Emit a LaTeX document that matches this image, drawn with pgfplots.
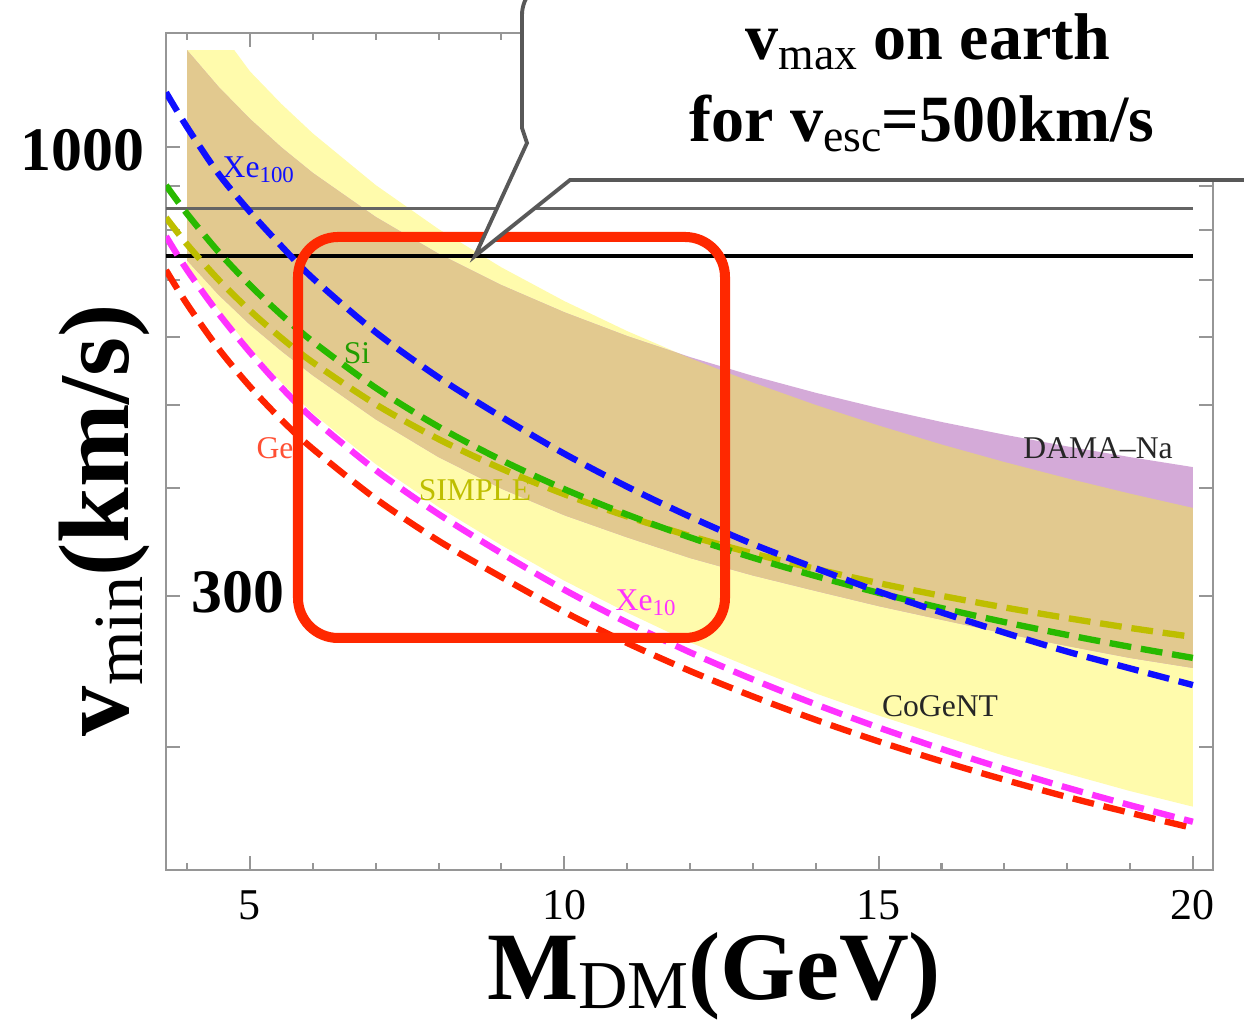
\documentclass[border=0pt]{standalone}
\usepackage{fontspec}
\setmainfont{Liberation Serif}
\usepackage{pgfplots}
\pgfplotsset{compat=1.18}
\definecolor{yelC}{RGB}{255,251,172}
\definecolor{tanC}{RGB}{226,201,143}
\definecolor{purD}{RGB}{212,170,216}
\definecolor{blueX}{RGB}{15,15,255}
\definecolor{greenS}{RGB}{40,185,0}
\definecolor{oliveS}{RGB}{190,190,0}
\definecolor{magX}{RGB}{255,50,255}
\definecolor{redG}{RGB}{255,35,0}
\definecolor{boxred}{RGB}{255,40,0}
\definecolor{axgray}{RGB}{150,150,150}
\definecolor{lgray}{RGB}{100,100,100}
\definecolor{cgray}{RGB}{88,88,88}
\begin{document}
\begin{tikzpicture}
\useasboundingbox (0,0) rectangle (12.44,10.20);
\begin{axis}[
  at={(1.66cm,1.50cm)}, anchor=south west,
  scale only axis, width=10.47cm, height=8.37cm,
  xmin=3.664, xmax=20.32, ymode=log, ymin=143.7, ymax=1358,
  xtick={5,10,15,20}, xticklabels={5,10,15,20},
  minor xtick={4,6,7,8,9,11,12,13,14,16,17,18,19},
  ytick={200,300,400,500,600,700,800,900,1000}, yticklabels={,,,,,,,,},
  yminorticks=false,
  tick align=inside,
  major tick length=0.14cm, minor tick length=0.07cm,
  axis line style={draw=axgray, line width=0.6pt},
  every tick/.style={draw=axgray, line width=0.6pt},
  xticklabel style={font=\fontsize{12.5}{14}\selectfont, inner sep=0pt, anchor=north, yshift=-0.20cm},
  clip=true,
]
% CoGeNT band
\addplot[fill=yelC, draw=none] coordinates {
(4.0,1297)(4.35,1297)(4.75,1297)(5,1224.9)(5.5,1122.4)(6,1037.1)(7,902.9)(8,802.3)(9,724.0)(10,661.4)(11,610.2)(12,567.5)(13,531.4)(14,500.4)(15,473.6)(16,450.1)(17,429.4)(18,411.0)(19,394.5)(20,379.65)
(20,170.3)(19,177.6)(18,186.1)(17,195.2)(16,206.0)(15,217.5)(14,230.8)(13,246.8)(12,264.7)(11,286.7)(10,312.3)(9,343.5)(8,380.5)(7,427.0)(6,489.1)(5.5,531.6)(5,582.6)(4.5,646.6)(4,724.6)
} -- cycle;
% DAMA band
\addplot[fill=purD, draw=none] coordinates {
(4,1296.4)(4.5,1175.2)(5,1078.2)(5.5,998.9)(6,932.7)(7,828.8)(8,750.9)(9,690.3)(10,641.8)(11,602.1)(12,569.1)(13,541.1)(14,517.1)(15,496.3)(16,478.15)(17,462.1)(18,447.8)(19,435.1)(20,423.6)
(20,247.1)(19,253.8)(18,262.1)(17,271.1)(16,281.2)(15,291.7)(14,303.8)(13,316.7)(12,331.9)(11,350.8)(10,372.3)(9,399.8)(8,435.1)(7,481.5)(6,541.8)(5.5,578.5)(5,620.8)(4.5,672.7)(4,737.6)
} -- cycle;
% overlap
\addplot[fill=tanC, draw=none] coordinates {
(4,1296.4)(4.5,1175.2)(5,1078.2)(5.5,998.9)(6,932.7)(7,828.8)(8,750.9)(9,690.3)(10,641.8)(11,602.1)(11.823,574.5)(12,567.5)(13,531.4)(14,500.4)(15,473.6)(16,450.1)(17,429.4)(18,411.0)(19,394.5)(20,379.65)
(20,247.1)(19,253.8)(18,262.1)(17,271.1)(16,281.2)(15,291.7)(14,303.8)(13,316.7)(12,331.9)(11,350.8)(10,372.3)(9,399.8)(8,435.1)(7,481.5)(6,541.8)(5.5,578.5)(5,620.8)(4.5,672.7)(4,737.6)
} -- cycle;
% v_max lines
\addplot[lgray, line width=0.85pt] coordinates {(3.664,847)(20,847)};
\addplot[black, line width=1.1pt] coordinates {(3.664,746)(20,746)};
% dashed curves
\pgfplotsset{dcurve/.style={smooth, line width=1.8pt, dash pattern=on 6.2pt off 2.8pt}}
\addplot[dcurve, redG] coordinates {
(3.664,718.6)(4,655.8)(4.5,582.0)(5,525.7)(5.5,480.9)(6,444.8)(7,389.2)(8,347.6)(9,315.3)(10,287.2)(11,264.2)(12,245.1)(13,228.9)(14,215.0)(15,202.9)(16,192.4)(17,183.1)(18,174.8)(19,167.5)(20,160.8)};
\addplot[dcurve, magX] coordinates {
(3.664,786.9)(4,718.8)(4.5,639.7)(5,576.4)(5.5,524.5)(6,482.6)(7,420.2)(8,373.4)(9,336.2)(10,304.8)(11,279.1)(12,257.7)(13,239.6)(14,224.1)(15,210.6)(16,198.9)(17,188.5)(18,179.2)(19,171.0)(20,163.55)};
\addplot[dcurve, oliveS] coordinates {
(3.664,827.4)(4,769.95)(4.5,700.3)(5,644.6)(5.5,599.0)(6,561.0)(7,501.3)(8,456.6)(9,421.8)(10,393.9)(11,371.1)(12,352.1)(13,336.0)(14,322.3)(15,310.3)(16,299.9)(17,290.7)(18,282.5)(19,275.1)(20,268.55)};
\addplot[dcurve, greenS] coordinates {
(3.664,902.3)(4,835.7)(4.5,754.8)(5,690.2)(5.5,637.3)(6,593.2)(7,524.0)(8,472.0)(9,431.6)(10,399.3)(11,372.9)(12,350.8)(13,332.2)(14,316.2)(15,302.3)(16,290.2)(17,279.5)(18,270.0)(19,261.5)(20,253.85)};
\addplot[dcurve, blueX] coordinates {
(3.664,1157.8)(4,1054.5)(4.5,930.5)(5,840.3)(5.5,766.5)(6,703.1)(7,608.4)(8,538.8)(9,484.7)(10,439.1)(11,401.9)(12,370.8)(13,344.5)(14,322.9)(15,303.3)(16,286.8)(17,271.7)(18,258.2)(19,246.8)(20,236.0)};
\end{axis}
% curve labels
\begin{scope}[every node/.style={inner sep=0pt, font=\fontsize{9}{10}\selectfont}]
\node[anchor=west, text=blueX] at (2.22,8.50) {Xe\raisebox{-1.5pt}{\fontsize{6.5}{7}\selectfont 100}};
\node[text=greenS!85!black] at (3.57,6.67) {Si};
\node[text=redG!80!white] at (2.75,5.72) {Ge};
\node[text=oliveS] at (4.75,5.30) {SIMPLE};
\node[anchor=west, text=magX] at (6.15,4.17) {Xe\raisebox{-1.5pt}{\fontsize{6.5}{7}\selectfont 10}};
\node[text=black!85] at (10.98,5.72) {DAMA\textendash Na};
\node[text=black!85] at (9.40,3.14) {CoGeNT};
\end{scope}
% big tick numbers
\node[anchor=east, inner sep=0pt, font=\fontsize{17.6}{20}\selectfont\bfseries] at (1.45,8.70) {1000};
\node[anchor=east, inner sep=0pt, font=\fontsize{17.6}{20}\selectfont\bfseries] at (2.85,4.28) {300};
% axis labels
\node[anchor=base, inner sep=0pt, font=\fontsize{27.5}{32}\selectfont\bfseries] at (7.14,0.20)
  {M\raisebox{-2.5pt}{\fontsize{19.5}{22}\selectfont\mdseries DM}(GeV)};
\node[rotate=90, anchor=base, inner sep=0pt, font=\fontsize{28.5}{32}\selectfont\bfseries] at (1.28,5.00)
  {v\raisebox{-4pt}{\fontsize{20}{22}\selectfont\mdseries min}(km/s)};
% red box
\draw[boxred, line width=2.85pt, rounded corners=0.4cm] (2.98,7.83) rectangle (7.25,3.82);
% callout
\filldraw[fill=white, draw=cgray, line width=1.1pt, line join=miter]
  (4.75,7.64) -- (5.27,8.77) -- (5.22,8.92) [rounded corners=0.35cm] -- (5.22,10.40) -- (12.9,10.40) [sharp corners] -- (12.9,8.40) -- (5.70,8.40) -- cycle;
\node[anchor=base, inner sep=0pt, font=\fontsize{18.8}{22}\selectfont\bfseries] at (9.28,9.60)
  {v\raisebox{-2.8pt}{\fontsize{13}{14}\selectfont\mdseries max} on earth};
\node[anchor=base, inner sep=0pt, font=\fontsize{18.8}{22}\selectfont\bfseries] at (9.22,8.78)
  {for v\raisebox{-2.8pt}{\fontsize{13}{14}\selectfont\mdseries esc}=500km/s};
\end{tikzpicture}
\end{document}
